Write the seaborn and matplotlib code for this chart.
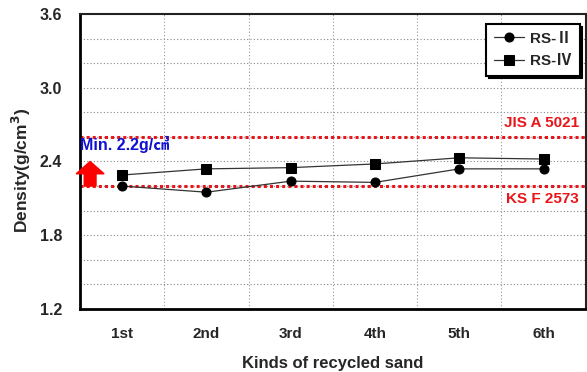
import numpy as np
import pandas as pd
import matplotlib
matplotlib.use("Agg")
import matplotlib.pyplot as plt
import matplotlib.patches as mpatches
import seaborn as sns

categories = ["1st", "2nd", "3rd", "4th", "5th", "6th"]
rs2 = [2.20, 2.15, 2.24, 2.23, 2.34, 2.34]
rs4 = [2.29, 2.34, 2.35, 2.38, 2.43, 2.42]
series_names = ["RS-Ⅱ", "RS-Ⅳ"]
jis_value = 2.6
ks_value = 2.2
yticks = [1.2, 1.8, 2.4, 3.0, 3.6]

sns.set_theme(style="white")
plt.rcParams['font.family'] = ['Liberation Sans', 'Noto Sans CJK KR', 'DejaVu Sans']

pos = np.arange(len(categories))
df = pd.DataFrame({
    "pos": np.concatenate([pos, pos]),
    "val": rs2 + rs4,
    "series": [series_names[0]] * len(pos) + [series_names[1]] * len(pos),
})

fig = plt.figure(figsize=(5.87, 3.72), dpi=100)
ax = fig.add_axes([0.1363, 0.1694, 0.8615, 0.793])

# grid
for yv in np.arange(1.4, 3.6, 0.2):
    ax.axhline(yv, color="#888888", lw=0.8, ls=(0, (1, 2)), zorder=0)
for xv in np.arange(0.5, len(categories) - 0.5, 1):
    ax.axvline(xv, color="#999999", lw=0.8, ls=(0, (1, 2)), zorder=0)

# reference lines
ax.axhline(jis_value, color="#e8161b", lw=2.2, ls=(0, (1, 1)), zorder=1)
ax.axhline(ks_value, color="#e8161b", lw=2.2, ls=(0, (1, 1)), zorder=1)

sns.lineplot(data=df, x="pos", y="val", hue="series", style="series",
             markers=["o", "s"], dashes=False, palette=["#333333", "#333333"],
             markersize=6.5, linewidth=0.9, markeredgecolor="black",
             markerfacecolor="black", ax=ax, zorder=3, legend=True)

ax.set_xlim(-0.5, len(categories) - 0.5)
ax.set_ylim(1.2, 3.6)
ax.set_xticks(pos)
ax.set_xticklabels(categories, fontsize=11, fontweight="bold")
ax.set_xticks(np.arange(0.5, len(categories) - 0.5, 1), minor=True)
ax.set_yticks(yticks)
ax.set_yticklabels([f"{v:.1f}" for v in yticks], fontsize=11.5, fontweight="bold")
ax.tick_params(axis="x", which="major", direction="inout", length=8, width=1.5, pad=9, color="black")
ax.tick_params(axis="x", which="minor", direction="in", length=4, width=1.5, color="black")
ax.tick_params(axis="y", which="major", direction="in", length=6, width=1.5, pad=13, color="black")

ax.set_xlabel("Kinds of recycled sand", fontsize=12, fontweight="bold", labelpad=11)
ax.set_ylabel("Density(g/cm$^\\mathbf{3}$)", fontsize=12.5, fontweight="bold")
ax.yaxis.set_label_coords(-0.093, 0.47)

for s in ["left", "bottom"]:
    ax.spines[s].set_linewidth(2.0)
    ax.spines[s].set_color("black")
for s in ["top", "right"]:
    ax.spines[s].set_linewidth(1.5)
    ax.spines[s].set_color("#222222")

# labels for reference lines
ax.text(5.42, 2.66, "JIS A 5021", color="#e8161b", fontsize=11, fontweight="bold",
        ha="right", va="bottom")
ax.text(5.42, 2.15, "KS F 2573", color="#e8161b", fontsize=11, fontweight="bold",
        ha="right", va="top")
ax.text(-0.5, 2.47, "Min. 2.2g/㎤", color="#1010d0", fontsize=11.5, fontweight="bold",
        ha="left", va="bottom", family=['Liberation Sans', 'Noto Sans CJK KR'])

arrow = mpatches.FancyArrow(-0.38, 2.2, 0, 0.2, width=0.14, head_width=0.33,
                            head_length=0.1, length_includes_head=True,
                            color="#ff0000", clip_on=False, zorder=4)
ax.add_patch(arrow)

leg = ax.legend(loc="upper right", bbox_to_anchor=(0.988, 0.966), borderaxespad=0,
                frameon=True, fancybox=False,
                shadow={"color": "black", "alpha": 1.0},
                handlelength=2.0, handletextpad=0.4,
                borderpad=0.5, labelspacing=0.55,
                prop={"family": ['Liberation Sans', 'Noto Sans CJK KR'],
                      "size": 11, "weight": "bold"})
leg.get_frame().set_edgecolor("black")
leg.get_frame().set_linewidth(1.5)
leg.get_frame().set_alpha(1.0)
leg.set_title(None)

fig.savefig("out.png", dpi=100)
